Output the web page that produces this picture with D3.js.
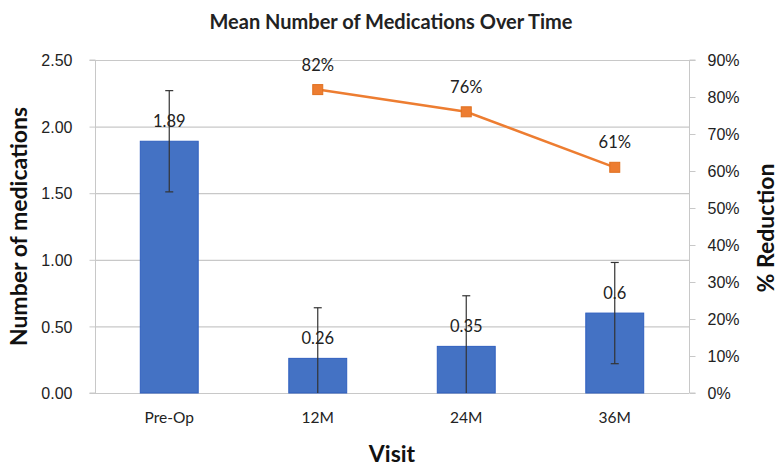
<!DOCTYPE html>
<html><head><meta charset="utf-8">
<script src="https://cdn.jsdelivr.net/npm/d3@7"></script>
<style>body{margin:0;background:#fff}svg{display:block;font-family:Lato,"Open Sans",sans-serif}</style>
</head><body><svg id="c" width="782" height="471"></svg>
<script>
const categories = ["Pre-Op","12M","24M","36M"];
const meanMeds = [1.89,0.26,0.35,0.6];
const errMeds = [0.38,0.38,0.38,0.38];
const barLabels = ["1.89","0.26","0.35","0.6"];
const lineCats = ["12M","24M","36M"];
const reduction = [0.82,0.76,0.61];
const leftTicks = [0,0.5,1,1.5,2,2.5];
const rightTicks = [0,0.1,0.2,0.3,0.4,0.5,0.6,0.7,0.8,0.9];

const svg = d3.select("#c");
const L=95, R=689, T=60, B=393;
const x = d3.scaleBand().domain(categories).range([L,R]).paddingInner(0.61).paddingOuter(0.305);
const y = d3.scaleLinear().domain([0,2.5]).range([B,T]);
const y2 = d3.scaleLinear().domain([0,0.9]).range([B,T]);
const cx = c => x(c)+x.bandwidth()/2;

// gridlines
svg.append("g").selectAll("line").data(leftTicks).join("line")
  .attr("x1",L).attr("x2",R).attr("y1",d=>y(d)+0.5).attr("y2",d=>y(d)+0.5)
  .attr("stroke","#c8c8c8").attr("stroke-width",1.2);

// left axis
const la = svg.append("g").attr("transform",`translate(${L+0.5},0)`)
  .call(d3.axisLeft(y).tickValues(leftTicks).tickFormat(d3.format(".2f")).tickSize(6).tickPadding(17));
la.select(".domain").attr("stroke","#c8c8c8").attr("d",`M-6,${B}H0V${T}H-6`);
la.selectAll(".tick line").attr("stroke","#c8c8c8");
la.selectAll("text").attr("font-size",16).attr("fill","#222").attr("dy","0.35em");

// right axis
const ra = svg.append("g").attr("transform",`translate(${R+0.5},0)`)
  .call(d3.axisRight(y2).tickValues(rightTicks).tickFormat(d3.format(".0%")).tickSize(6).tickPadding(12));
ra.select(".domain").attr("stroke","#c8c8c8").attr("d",`M6,${B}H0V${T}H6`);
ra.selectAll(".tick line").attr("stroke","#c8c8c8");
ra.selectAll("text").attr("font-size",16).attr("fill","#222").attr("dy","0.35em");

// x labels
svg.append("g").selectAll("text").data(categories).join("text")
  .attr("x",d=>cx(d)).attr("y",423).attr("text-anchor","middle")
  .attr("font-size",15.5).attr("fill","#222").text(d=>d);

// bars
svg.append("g").selectAll("rect").data(categories).join("rect")
  .attr("x",d=>x(d)).attr("width",x.bandwidth())
  .attr("y",(d,i)=>y(meanMeds[i])).attr("height",(d,i)=>B-y(meanMeds[i]))
  .attr("fill","#4472C4").attr("stroke","#2f5fbf").attr("stroke-width",1);

// error bars
const eg = svg.append("g").attr("stroke","#333").attr("stroke-width",1.2);
categories.forEach((c,i)=>{
  const hi = y(meanMeds[i]+errMeds[i]), lo = y(Math.max(0,meanMeds[i]-errMeds[i]));
  const xc = cx(c);
  eg.append("line").attr("x1",xc).attr("x2",xc).attr("y1",hi).attr("y2",lo);
  eg.append("line").attr("x1",xc-4).attr("x2",xc+4).attr("y1",hi).attr("y2",hi);
  if (meanMeds[i]-errMeds[i]>0) eg.append("line").attr("x1",xc-4).attr("x2",xc+4).attr("y1",lo).attr("y2",lo);
});

// bar labels
svg.append("g").selectAll("text").data(categories).join("text")
  .attr("x",d=>cx(d)).attr("y",(d,i)=>y(meanMeds[i])-14).attr("text-anchor","middle")
  .attr("font-size",16.5).attr("fill","#222").text((d,i)=>barLabels[i]);

// line
const line = d3.line().x((d,i)=>cx(lineCats[i])).y(d=>y2(d));
svg.append("path").datum(reduction).attr("d",line).attr("fill","none")
  .attr("stroke","#ED7D31").attr("stroke-width",2.5);
svg.append("g").selectAll("rect").data(reduction).join("rect")
  .attr("x",(d,i)=>cx(lineCats[i])-5).attr("y",d=>y2(d)-5).attr("width",10).attr("height",10)
  .attr("fill","#ED7D31").attr("stroke","#e0701f");
svg.append("g").selectAll("text").data(reduction).join("text")
  .attr("x",(d,i)=>cx(lineCats[i])).attr("y",d=>y2(d)-19).attr("text-anchor","middle")
  .attr("font-size",16.5).attr("fill","#222").text(d=>d3.format(".0%")(d));

// titles
svg.append("text").attr("x",391).attr("y",29).attr("text-anchor","middle")
  .attr("font-size",20).attr("font-weight","bold").attr("fill","#222").text("Mean Number of Medications Over Time");
svg.append("text").attr("transform",`translate(27,${(T+B)/2}) rotate(-90)`).attr("text-anchor","middle")
  .attr("font-size",23).attr("font-weight","bold").attr("fill","#111").text("Number of medications");
svg.append("text").attr("transform",`translate(774,228) rotate(-90)`).attr("text-anchor","middle")
  .attr("font-size",23).attr("font-weight","bold").attr("fill","#111").text("% Reduction");
svg.append("text").attr("x",cx("12M")+(cx("24M")-cx("12M"))/2).attr("y",462).attr("text-anchor","middle")
  .attr("font-size",23).attr("font-weight","bold").attr("fill","#111").text("Visit");
</script></body></html>
